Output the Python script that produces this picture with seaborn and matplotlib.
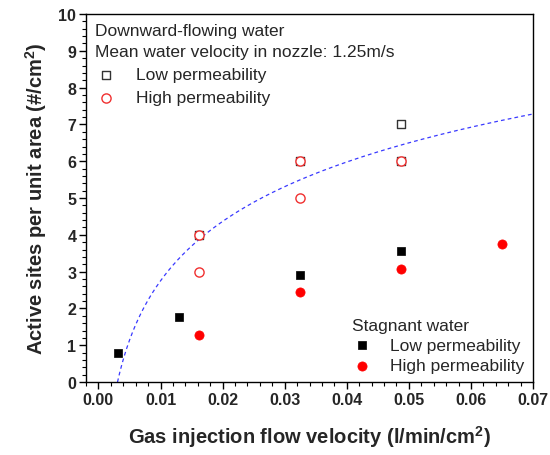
import numpy as np
import pandas as pd
import matplotlib
matplotlib.use("Agg")
import matplotlib.pyplot as plt
import seaborn as sns
from matplotlib.ticker import MultipleLocator

# ---- data ----
flow_low_flowing = [0.0162, 0.0325, 0.0487, 0.0487]
sites_low_flowing = [4.0, 6.0, 7.0, 6.0]
flow_high_flowing = [0.0162, 0.0162, 0.0325, 0.0325, 0.0487]
sites_high_flowing = [4.0, 3.0, 6.0, 5.0, 6.0]
flow_low_stagnant = [0.0032, 0.0130, 0.0325, 0.0487]
sites_low_stagnant = [0.80, 1.78, 2.92, 3.57]
flow_high_stagnant = [0.0162, 0.0325, 0.0487, 0.0650]
sites_high_stagnant = [1.29, 2.44, 3.08, 3.74]
# logarithmic fit y = fit_a + fit_b * ln(x)
fit_a = 13.48
fit_b = 2.33
fit_x_range = [0.00307, 0.07]

x_ticks = [0.00, 0.01, 0.02, 0.03, 0.04, 0.05, 0.06, 0.07]
y_ticks = list(range(0, 11))

sns.set_theme(style="white")
plt.rcParams["font.family"] = ["Liberation Sans", "DejaVu Sans"]
plt.rcParams["mathtext.fontset"] = "custom"
plt.rcParams["mathtext.rm"] = "Liberation Sans"
plt.rcParams["mathtext.bf"] = "Liberation Sans:bold"

fig = plt.figure(figsize=(5.5, 4.56), dpi=100)
ax = fig.add_axes([0.1564, 0.160, 0.9691 - 0.1564, 0.967 - 0.160])

# fit curve
xf = np.geomspace(fit_x_range[0], fit_x_range[1], 300)
yf = fit_a + fit_b * np.log(xf)
sns.lineplot(x=xf, y=yf, ax=ax, color="#3a3aff", lw=0.9,
             linestyle=(0, (3, 2.5)), zorder=2, legend=False)

ms = 38
sns.scatterplot(x=flow_low_flowing, y=sites_low_flowing, ax=ax, marker="s",
                s=ms, facecolor="white", edgecolor="#333333", linewidth=1.0,
                zorder=3, label="Low permeability")
sns.scatterplot(x=flow_high_flowing, y=sites_high_flowing, ax=ax, marker="o",
                s=ms * 1.15, facecolor="white", edgecolor="#f03030", linewidth=1.0,
                zorder=4, label="High permeability")
sns.scatterplot(x=flow_low_stagnant, y=sites_low_stagnant, ax=ax, marker="s",
                s=ms, color="black", edgecolor="black", linewidth=0.5,
                zorder=3, label="Low permeability ")
sns.scatterplot(x=flow_high_stagnant, y=sites_high_stagnant, ax=ax, marker="o",
                s=ms * 1.15, color="#ff0000", edgecolor="#ff0000", linewidth=0.5,
                zorder=3, label="High permeability ")

ax.set_xlim(-0.002, 0.07)
ax.set_ylim(0, 10)
ax.set_xticks(x_ticks)
ax.set_xticklabels([f"{v:.2f}" for v in x_ticks])
ax.set_yticks(y_ticks)
ax.xaxis.set_minor_locator(MultipleLocator(0.002))
ax.yaxis.set_minor_locator(MultipleLocator(0.2))
ax.tick_params(axis="both", which="major", direction="out", length=5, width=1.0,
               labelsize=11.5, bottom=True, left=True, top=False, right=False, pad=2,
               color="black")
ax.tick_params(axis="both", which="minor", direction="out", length=3, width=0.8,
               bottom=True, left=True, top=False, right=False, color="black")
for lab in ax.get_xticklabels() + ax.get_yticklabels():
    lab.set_fontweight("bold")
for sp in ax.spines.values():
    sp.set_color("black")
    sp.set_linewidth(1.0)

ax.set_xlabel("Gas injection flow velocity (l/min/cm$^\\mathbf{2}$)", fontsize=14.5,
              fontweight="bold", labelpad=12)
ax.set_ylabel("Active sites per unit area (#/cm$^\\mathbf{2}$)", fontsize=14.5,
              fontweight="bold", labelpad=7)

handles, labels = ax.get_legend_handles_labels()
hmap = dict(zip(labels, handles))
leg1 = ax.legend([hmap["Low permeability"], hmap["High permeability"]],
                 ["Low permeability", "High permeability"],
                 title="Downward-flowing water\nMean water velocity in nozzle: 1.25m/s",
                 loc="upper left", bbox_to_anchor=(0.0, 1.0), frameon=False,
                 fontsize=12.5, title_fontsize=12.5, handletextpad=1.1,
                 borderaxespad=0.2, labelspacing=0.45, handlelength=1.3,
                 borderpad=0.3)
leg1._legend_box.align = "left"
leg1.get_title().set_linespacing(1.55)
ax.add_artist(leg1)
leg2 = ax.legend([hmap["Low permeability "], hmap["High permeability "]],
                 ["Low permeability", "High permeability"],
                 title="Stagnant water",
                 loc="lower right", bbox_to_anchor=(1.0, 0.0), frameon=False,
                 fontsize=12.5, title_fontsize=12.5, handletextpad=1.0,
                 borderaxespad=0.2, labelspacing=0.3, handlelength=1.2,
                 borderpad=0.3)
leg2._legend_box.align = "left"

fig.savefig("out.png", dpi=100)
